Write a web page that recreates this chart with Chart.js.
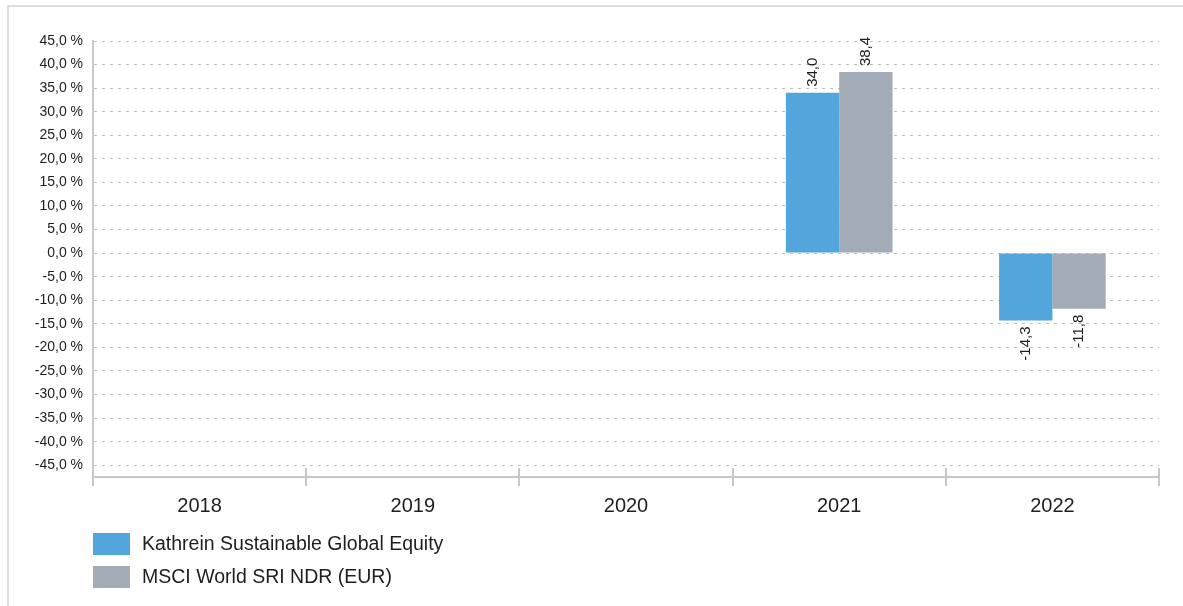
<!DOCTYPE html>
<html>
<head>
<meta charset="utf-8">
<script src="https://cdn.jsdelivr.net/npm/chart.js@4"></script>
<style>
  html, body { margin: 0; padding: 0; background: #fff; }
  body { width: 1183px; height: 606px; position: relative; overflow: hidden; font-family: "Liberation Sans", Arial, sans-serif; }
  #frame { position: absolute; left: 7px; top: 5px; width: 1300px; height: 700px; border-left: 2px solid #dedede; border-top: 2px solid #dedede; }
  #wrap { position: absolute; left: 0; top: 0; width: 1183px; height: 606px; }
  #legend { position: absolute; left: 93px; top: 527px; }
  .item { display: flex; align-items: center; height: 33px; font-size: 19.5px; color: #1e1e1e; }
  .box { width: 37px; height: 22px; margin-right: 12px; }
</style>
</head>
<body>
<div id="frame"></div>
<div id="wrap"><canvas id="c"></canvas></div>
<div id="legend"></div>
<script>
const categories = ["2018", "2019", "2020", "2021", "2022"];
const seriesNames = ["Kathrein Sustainable Global Equity", "MSCI World SRI NDR (EUR)"];
const kathreinValues = [null, null, null, 34.0, -14.3];
const msciValues = [null, null, null, 38.4, -11.8];
const yTickValues = [-45, -40, -35, -30, -25, -20, -15, -10, -5, 0, 5, 10, 15, 20, 25, 30, 35, 40, 45];
const seriesColors = ["#52a6db", "#a3acb6"];

function fmt(v) { return v.toFixed(1).replace('.', ','); }

const labelPlugin = {
  id: 'barLabels',
  afterDatasetsDraw(chart) {
    const ctx = chart.ctx;
    ctx.save();
    ctx.font = '15px "Liberation Sans", Arial, sans-serif';
    ctx.fillStyle = '#1e1e1e';
    chart.data.datasets.forEach((ds, i) => {
      const meta = chart.getDatasetMeta(i);
      meta.data.forEach((bar, j) => {
        const v = ds.data[j];
        if (v === null || v === undefined) return;
        ctx.save();
        ctx.translate(bar.x, bar.y + (v >= 0 ? -6 : 6));
        ctx.rotate(-Math.PI / 2);
        ctx.textAlign = v >= 0 ? 'left' : 'right';
        ctx.textBaseline = 'middle';
        ctx.fillText(fmt(v), 0, 0);
        ctx.restore();
      });
    });
    ctx.restore();
  }
};

const tickPlugin = {
  id: 'crossTicks',
  afterDraw(chart) {
    const xs = chart.scales.x;
    const ctx = chart.ctx;
    const n = chart.data.labels.length;
    const y = xs.top;
    ctx.save();
    ctx.strokeStyle = '#c8c8c8';
    ctx.lineWidth = 2;
    for (let i = 0; i <= n; i++) {
      const x = Math.round(xs.left + i * xs.width / n);
      ctx.beginPath();
      ctx.moveTo(x, y - 9);
      ctx.lineTo(x, y + 9);
      ctx.stroke();
    }
    ctx.restore();
  }
};

new Chart(document.getElementById('c'), {
  type: 'bar',
  data: {
    labels: categories,
    datasets: [
      { label: seriesNames[0], data: kathreinValues, backgroundColor: seriesColors[0] },
      { label: seriesNames[1], data: msciValues, backgroundColor: seriesColors[1] }
    ]
  },
  options: {
    responsive: true,
    maintainAspectRatio: false,
    animation: false,
    layout: { padding: { left: 0, right: 24, top: 41, bottom: 0 } },
    datasets: { bar: { categoryPercentage: 0.5, barPercentage: 1.0 } },
    plugins: { legend: { display: false }, tooltip: { enabled: false } },
    scales: {
      x: {
        offset: true,
        grid: { display: false },
        border: { display: true, color: '#c8c8c8', width: 2 },
        ticks: { color: '#1e1e1e', font: { size: 20, family: '"Liberation Sans", Arial, sans-serif' }, padding: 9 },
        afterFit(scale) { scale.height = 129; }
      },
      y: {
        min: -47.5,
        max: 45,
        ticks: {
          color: '#1e1e1e',
          padding: 10,
          font: { size: 14, family: '"Liberation Sans", Arial, sans-serif' },
          callback: (v) => fmt(v) + ' %'
        },
        afterBuildTicks(scale) {
          scale.ticks = yTickValues.map(v => ({ value: v }));
        },
        grid: { color: '#bdbdbd', lineWidth: 1, drawTicks: false },
        border: { display: true, color: '#c8c8c8', width: 2, dash: [3, 5] },
        afterFit(scale) { scale.width = 93; }
      }
    }
  },
  plugins: [labelPlugin, tickPlugin]
});

const legend = document.getElementById('legend');
seriesNames.forEach((name, i) => {
  const item = document.createElement('div');
  item.className = 'item';
  const box = document.createElement('div');
  box.className = 'box';
  box.style.background = seriesColors[i];
  const txt = document.createElement('span');
  txt.textContent = name;
  item.appendChild(box);
  item.appendChild(txt);
  legend.appendChild(item);
});
</script>
</body>
</html>
